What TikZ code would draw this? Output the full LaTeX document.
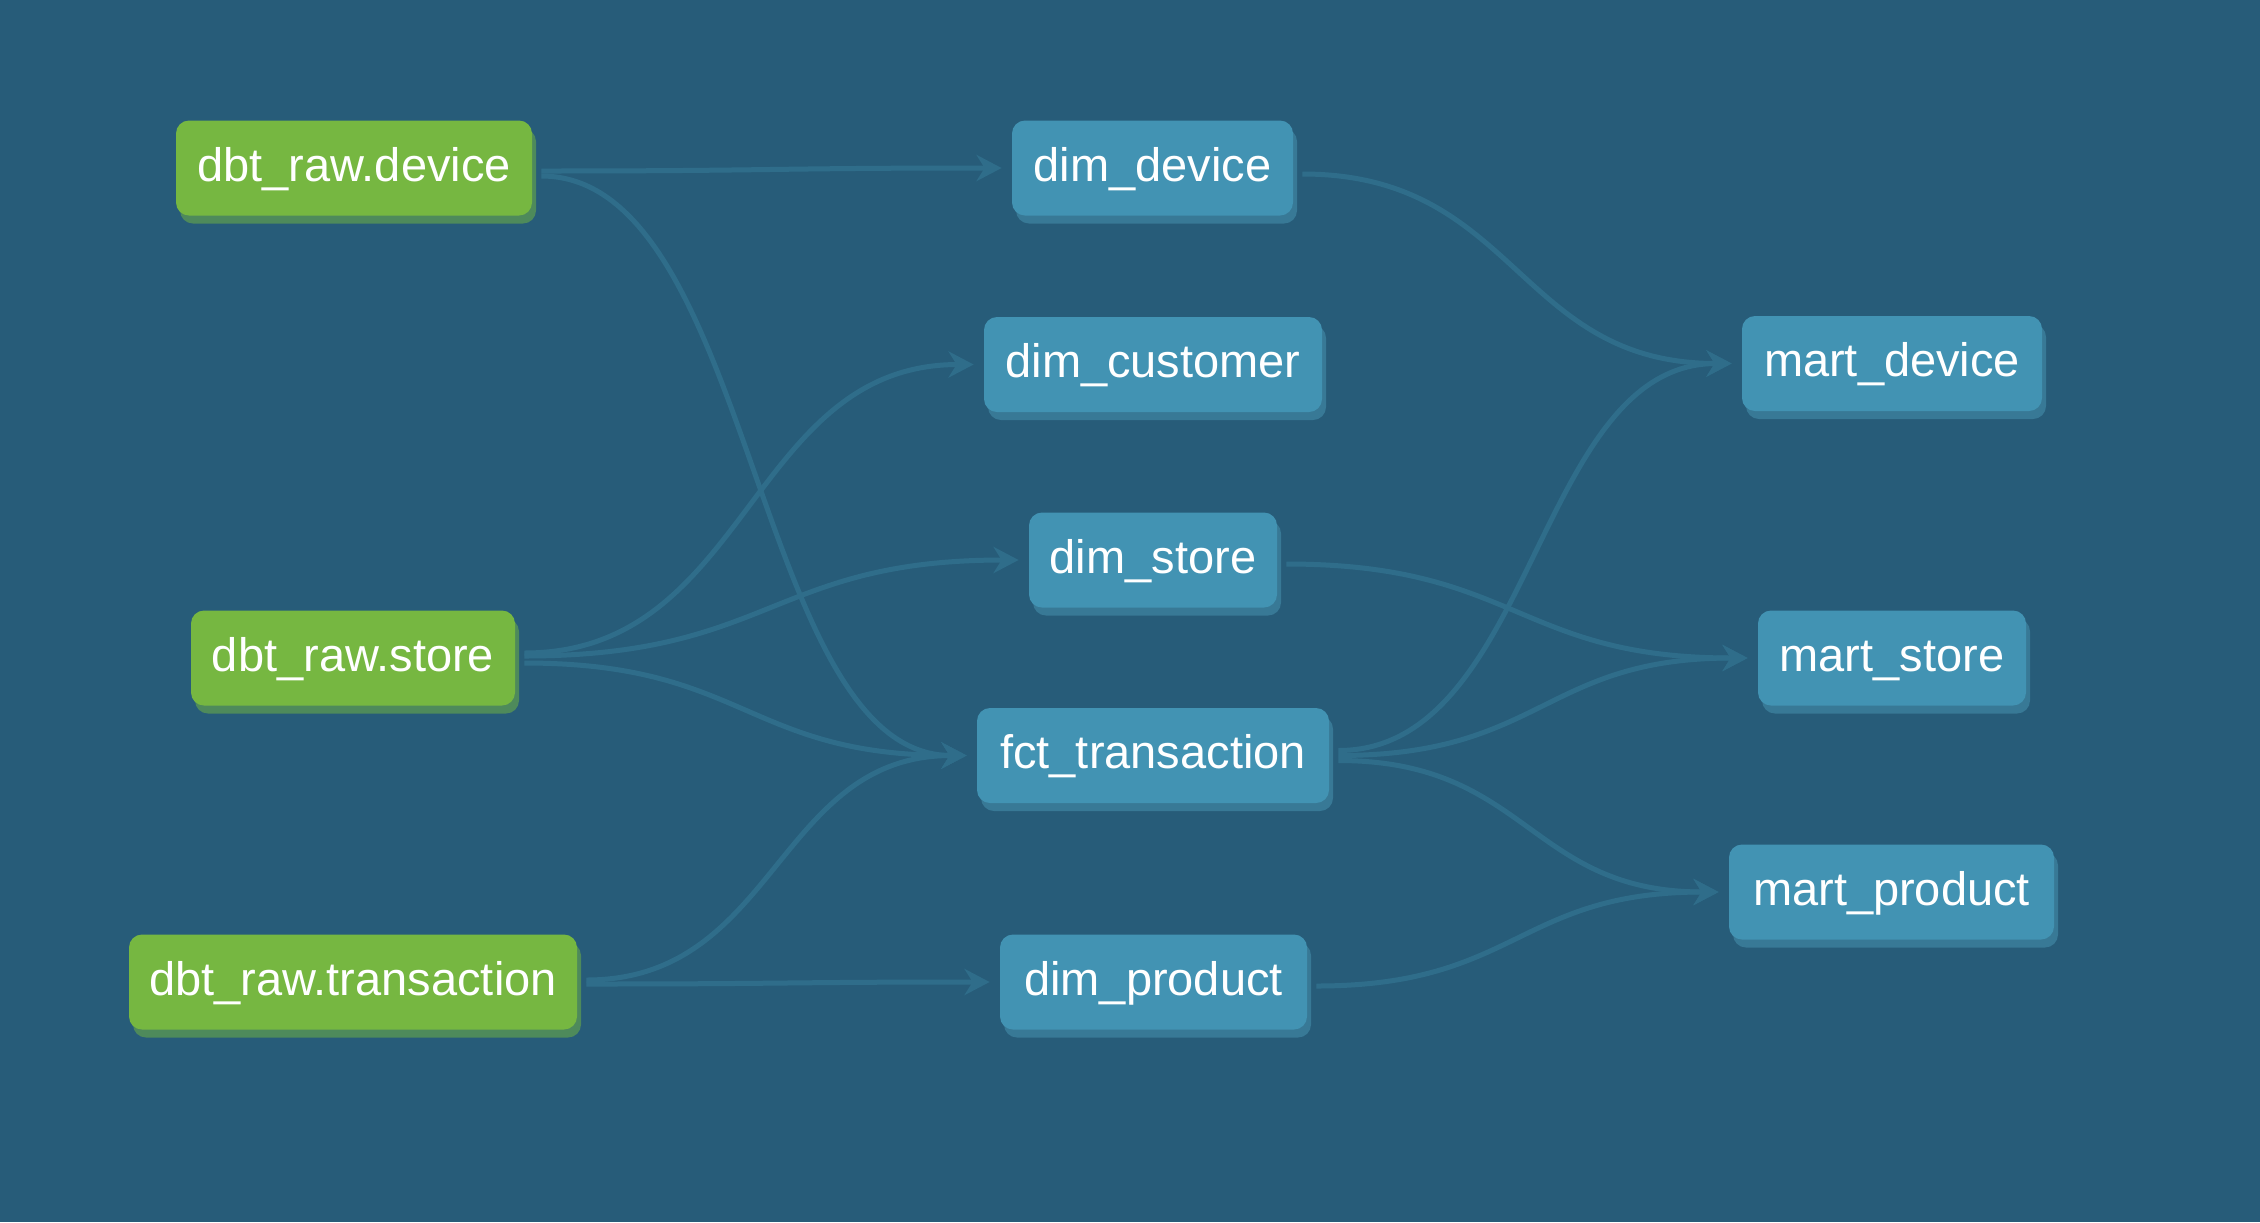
\documentclass[tikz,border=0pt]{standalone}
\usepackage{fontspec}
\setmainfont{Liberation Sans}
\usetikzlibrary{arrows.meta,calc,shadows}
\definecolor{bgc}{HTML}{275C79}
\definecolor{edgec}{HTML}{2F6D8A}
\definecolor{greenc}{HTML}{76B741}
\definecolor{greensh}{HTML}{4E8A5B}
\definecolor{bluec}{HTML}{4293B3}
\definecolor{bluesh}{HTML}{387996}
\tikzset{
  x=0.5pt, y=-0.5pt,
  basebox/.style={rounded corners=6.5pt, inner sep=0pt, minimum height=47.5pt,
    text=white, font=\fontsize{23.5pt}{27pt}\selectfont,
    text height=17.5pt, text depth=4.1pt, align=center},
  srcbox/.style={basebox, fill=greenc,
    general shadow={fill=greensh, shadow xshift=2pt, shadow yshift=-4pt}},
  mdlbox/.style={basebox, fill=bluec,
    general shadow={fill=bluesh, shadow xshift=2pt, shadow yshift=-4pt}},
  edge/.style={draw=edgec, line width=2.5pt,
    -{Stealth[length=12.5pt, width=13pt, inset=4pt]}},
}
\newcommand\linkedge[4]{%
  \draw[edge] let \p1=($(#1.east)+(9,#3)$), \p2=($(#2.west)+(-10,#4)$) in
    (\p1) .. controls ({(\x1+\x2)/2},\y1) and ({(\x1+\x2)/2},\y2) .. (\p2);}
\begin{document}
\begin{tikzpicture}
\fill[bgc] (0,0) rectangle (2260,1222);
\useasboundingbox (0,0) rectangle (2260,1222);
% sources
\node[srcbox, minimum width=178pt] (rawdev) at (354,168) {dbt\_raw.device};
\node[srcbox, minimum width=162pt] (rawstore) at (353,658) {dbt\_raw.store};
\node[srcbox, minimum width=224pt] (rawtrans) at (353,982) {dbt\_raw.transaction};
% middle
\node[mdlbox, minimum width=140.5pt] (dimdev) at (1152.5,168) {dim\_device};
\node[mdlbox, minimum width=169pt] (dimcust) at (1153,364.5) {dim\_customer};
\node[mdlbox, minimum width=124pt] (dimstore) at (1153,560) {dim\_store};
\node[mdlbox, minimum width=176pt] (fct) at (1153,755.5) {fct\_transaction};
\node[mdlbox, minimum width=153.5pt] (dimprod) at (1153.5,982) {dim\_product};
% marts
\node[mdlbox, minimum width=150pt] (martdev) at (1892,363.5) {mart\_device};
\node[mdlbox, minimum width=134pt] (martstore) at (1892,658) {mart\_store};
\node[mdlbox, minimum width=162.5pt] (martprod) at (1891.5,892) {mart\_product};
% edges
\linkedge{rawdev}{dimdev}{3}{0}
\linkedge{rawdev}{fct}{8}{0}
\linkedge{rawstore}{dimcust}{-5}{0}
\linkedge{rawstore}{dimstore}{-2}{0}
\linkedge{rawstore}{fct}{5}{0}
\linkedge{rawtrans}{fct}{-2}{0}
\linkedge{rawtrans}{dimprod}{2}{0}
\linkedge{dimdev}{martdev}{6}{0}
\linkedge{dimstore}{martstore}{4}{0}
\linkedge{fct}{martdev}{-5}{0}
\linkedge{fct}{martstore}{0}{0}
\linkedge{fct}{martprod}{5}{0}
\linkedge{dimprod}{martprod}{4}{0}
\end{tikzpicture}
\end{document}
